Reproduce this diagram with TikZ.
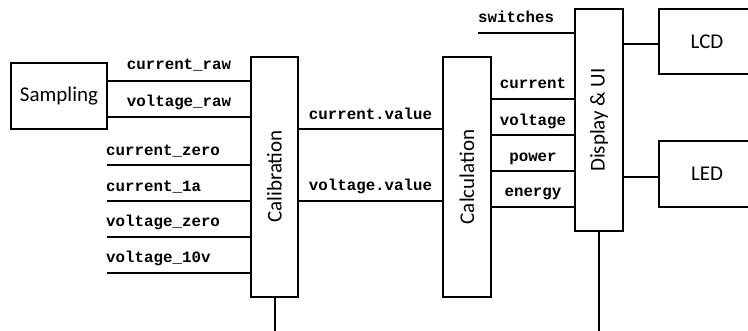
\documentclass[tikz,border=0pt]{standalone}
\usepackage{graphicx}
\usepackage{fontspec}
\setmainfont{Carlito}
\newfontfamily\sigfont{Liberation Mono}
\begin{document}
\begin{tikzpicture}[x=1pt,y=-1pt,
  block/.style={draw, line width=2pt, inner sep=0pt, font=\fontsize{21}{25}\selectfont},
  sig/.style={font=\sigfont\bfseries\fontsize{15.8}{18}\selectfont, inner sep=0pt},
  wire/.style={line width=2pt}]
\clip (0,0) rectangle (748,330);

% processing blocks
\node[block, minimum width=96, minimum height=66] (samp) at (59,96) {Sampling};
\node[block, minimum width=47, minimum height=240] (calib) at (274.5,176.5) {\rotatebox{90}{Calibration}};
\node[block, minimum width=48, minimum height=240] (calc) at (467,177) {\rotatebox{90}{Calculation}};
\node[block, minimum width=48, minimum height=222] (disp) at (599,120) {\rotatebox{90}{Display \& UI}};
\node[block, minimum width=96, minimum height=65] (lcd) at (707,41.5) {LCD};
\node[block, minimum width=96, minimum height=66] (led) at (707,173.7) {LED};

% sampling -> calibration
\draw[wire] (samp.east |- 0,81) -- (calib.west |- 0,81);
\draw[wire] (samp.east |- 0,116.7) -- (calib.west |- 0,116.7);
\node[sig, anchor=base] at (179,69.3) {current\_raw};
\node[sig, anchor=base] at (179,106) {voltage\_raw};

% calibration constants
\coordinate (cz) at (107,164.5);
\coordinate (c1) at (107,200.7);
\coordinate (vz) at (107,236.7);
\coordinate (v10) at (107,272.7);
\foreach \c in {cz,c1,vz,v10} \draw[wire] (\c) -- (calib.west |- \c);
\node[sig, anchor=base west] at (106,155) {current\_zero};
\node[sig, anchor=base west] at (106,191) {current\_1a};
\node[sig, anchor=base west] at (106,226.7) {voltage\_zero};
\node[sig, anchor=base west] at (106,262.7) {voltage\_10v};

% calibration -> calculation
\draw[wire] (calib.east |- 0,129) -- (calc.west |- 0,129);
\draw[wire] (calib.east |- 0,201) -- (calc.west |- 0,201);
\node[sig, anchor=base] at (370.5,119) {current.value};
\node[sig, anchor=base] at (370.5,190.7) {voltage.value};

% calculation -> display
\foreach \y in {99,135,171,206.7}
  \draw[wire] (calc.east |- 0,\y) -- (disp.west |- 0,\y);
\node[sig, anchor=base] at (533,88.7) {current};
\node[sig, anchor=base] at (533,125.3) {voltage};
\node[sig, anchor=base] at (533,161) {power};
\node[sig, anchor=base] at (533,196.7) {energy};

% user input
\coordinate (sw) at (478,32.7);
\draw[wire] (sw) -- (disp.west |- sw);
\node[sig, anchor=base west] at (478,22.7) {switches};

% display outputs
\draw[wire] (disp.east |- 0,44.3) -- (lcd.west |- 0,44.3);
\draw[wire] (disp.east |- 0,176.7) -- (led.west |- 0,176.7);

% stems leaving the bottom
\coordinate (cbot) at (calib.south |- 0,334);
\coordinate (dbot) at (disp.south |- 0,334);
\draw[wire] (calib.south) -- (cbot);
\draw[wire] (disp.south) -- (dbot);
\end{tikzpicture}
\end{document}
